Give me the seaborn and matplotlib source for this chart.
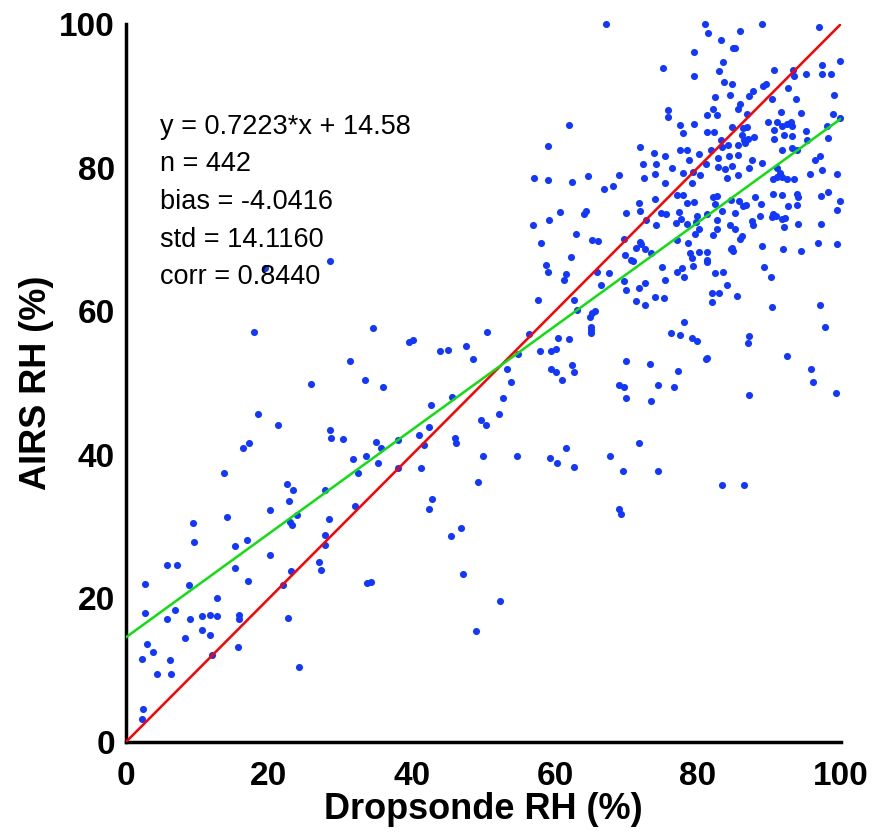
import numpy as np
import pandas as pd
import matplotlib
matplotlib.use('Agg')
import matplotlib.pyplot as plt
import seaborn as sns

# =============================================
# data (Dropsonde RH vs AIRS RH, %)
# =============================================
drop_rh = [
    # low range
    14.1, 9.4, 20.1, 22.8, 23.9, 23.0, 23.2, 28.4, 32.1, 9.5, 16.9, 15.3, 20.1, 5.7, 7.2,
    15.3, 23.1, 27.0, 27.3, 27.9, 27.9, 2.6, 8.8, 17.1, 22.0, 33.7, 12.8, 2.6, 6.8, 5.8,
    9.0, 10.7, 11.8, 12.8, 15.8, 15.8, 10.6, 11.8, 8.3, 22.7, 3.0, 3.8, 2.2, 6.1, 15.7,
    12.1, 4.4, 6.3, 24.2, 2.4, 2.2,
    19.4, 28.6, 17.9, 31.4, 33.4, 34.5, 25.9, 18.5, 21.3, 28.5, 28.7, 30.4, 16.4, 17.2,
    33.6, 31.7, 32.4, 13.7, 22.5, 23.3, 27.8,
    # middle range
    36.0, 39.6, 40.2, 43.9, 45.1, 47.6, 48.5, 50.5, 57.6, 58.7, 59.0, 61.3, 61.6, 62.7,
    63.1, 64.9, 65.2, 65.6, 65.0, 65.0, 65.0, 65.9, 66.4, 67.5, 56.3, 54.8, 57.9, 59.4,
    60.1, 60.4, 61.9, 59.4, 60.1, 61.0, 62.4, 62.6, 53.3, 53.8, 52.8, 52.2, 49.7, 50.4,
    45.6, 42.6, 42.4, 41.0, 41.7, 46.0, 46.1, 38.1, 34.9, 35.7, 35.2, 38.1, 41.3, 50.0,
    54.7, 59.3, 60.3, 61.5, 62.6, 49.2, 42.8, 42.4, 67.7,
    46.8, 45.5, 34.3, 47.1, 52.3, 48.9, 69.0, 69.3,
    69.7, 69.9, 70.9, 71.4, 72.6, 71.8, 72.6, 74.0, 75.3, 75.0, 75.4, 77.1, 77.7, 78.0,
    79.3, 81.3, 82.4, 83.5, 84.1, 82.0, 83.0, 82.0, 85.4, 89.2, 90.2, 90.4, 97.1, 97.8,
    78.0, 76.2, 77.5, 79.1, 79.8, 87.1, 87.0, 70.0, 73.3, 77.2, 81.1, 81.2, 92.4, 95.8,
    96.1, 68.9, 69.7, 69.9, 74.4, 76.6, 73.4, 87.1, 99.3, 71.7, 69.5, 74.4, 83.3, 86.5,
    67.1, 62.0, 59.0, 57.1, 59.0, 62.4, 64.6, 66.9, 60.7, 64.1, 64.4, 56.9, 59.2, 58.0,
    62.9, 65.2, 66.0, 62.2,
    # upper cluster
    81.0, 81.4, 85.9, 88.9, 96.9, 83.2, 84.9, 85.2, 79.5, 83.5, 75.1, 83.0, 79.5, 83.7,
    84.8, 90.6, 93.3, 93.5, 95.1, 97.3, 97.4, 98.6, 99.9, 89.1, 89.5, 87.7, 87.2, 84.5,
    82.4, 85.9, 85.6, 82.1, 75.8, 75.8, 92.6, 93.7, 90.3, 99.0, 91.6, 94.4, 98.9, 86.8,
    82.7, 81.3, 79.4, 77.5, 77.9, 81.2, 82.3, 84.8, 86.3, 86.8, 89.8, 91.0, 91.7, 92.4,
    93.0, 93.2, 90.7, 95.1, 98.0, 99.9, 86.1, 86.4, 87.0, 87.9, 86.6, 83.2, 85.6, 90.6,
    92.1, 93.1, 95.3, 98.2, 71.9, 77.5, 78.5, 81.8, 83.4, 84.2, 84.4, 85.6, 82.8, 73.8,
    75.4, 72.3, 74.2, 76.4, 78.8, 80.1, 81.1, 82.8, 83.8, 84.8, 87.6, 88.9, 87.1, 91.7,
    93.1, 93.8, 91.0, 91.5, 91.0, 91.7, 90.5, 92.4, 93.5, 95.7, 97.1, 96.4, 97.3, 99.4,
    69.0, 68.1, 72.5, 74.0, 75.4, 77.9, 79.3, 80.3, 84.1, 85.6, 79.2, 77.0, 77.9, 71.7,
    71.9, 70.0, 74.0, 74.9, 75.5, 78.4, 79.4, 77.3, 77.6, 76.9, 78.4, 79.8, 79.7, 81.2,
    82.7, 82.1, 82.6, 82.4, 83.3, 84.6, 85.8, 86.3, 86.7, 88.0, 88.8, 85.2, 90.5, 91.7,
    93.8, 94.0, 92.6, 93.8, 90.5, 90.9, 91.8, 92.2, 90.3, 88.7, 87.5, 87.7, 84.5, 85.2,
    82.7, 94.0, 92.0, 97.2, 99.4, 99.9, 98.2, 97.2, 80.1, 79.6, 82.1, 85.9, 86.2, 88.9,
    91.9, 94.4, 96.8, 99.5, 77.0, 78.6, 78.9, 79.2, 80.2, 81.3, 81.3, 84.6, 84.9, 84.7,
    71.9, 72.1, 72.6, 71.4, 69.6, 69.8, 70.7, 73.5, 74.2, 72.8,
]

airs_rh = [
    # low range
    31.3, 30.5, 32.3, 33.6, 31.6, 30.7, 30.2, 31.1, 32.8, 27.8, 28.2, 27.3, 26.0, 24.7, 24.7,
    24.3, 23.8, 25.0, 23.9, 28.8, 27.5, 22.0, 21.8, 22.4, 21.8, 22.1, 20.1, 18.0, 18.4, 17.1,
    17.1, 17.5, 17.7, 17.6, 17.7, 17.1, 15.6, 14.9, 14.5, 17.2, 13.6, 12.5, 11.5, 11.4, 13.2,
    12.1, 9.5, 9.5, 10.4, 4.6, 3.2,
    66.0, 67.0, 57.1, 53.0, 50.4, 57.7, 49.9, 45.7, 44.2, 43.5, 42.4, 42.2, 41.0, 41.7,
    39.8, 39.4, 37.4, 37.4, 35.9, 35.1, 35.1,
    # middle range
    49.4, 55.7, 56.0, 54.5, 54.6, 55.1, 53.3, 57.1, 61.6, 66.4, 65.5, 64.3, 65.2, 61.6,
    60.2, 59.2, 59.7, 60.0, 57.8, 57.4, 57.0, 65.4, 63.6, 65.3, 56.8, 54.0, 54.4, 54.4,
    54.7, 56.3, 56.1, 52.0, 51.5, 50.4, 52.5, 51.5, 52.0, 50.2, 47.9, 45.7, 44.8, 44.2,
    48.0, 46.9, 43.9, 42.7, 41.3, 42.4, 41.6, 42.0, 41.8, 41.0, 38.9, 38.1, 38.1, 39.8,
    39.8, 39.5, 38.9, 40.9, 38.3, 36.2, 33.9, 32.4, 39.8,
    29.8, 28.7, 22.3, 23.4, 19.7, 15.4, 32.5, 31.8,
    64.2, 63.0, 67.0, 61.4, 60.9, 63.2, 63.9, 62.0, 61.8, 66.2, 64.3, 65.4, 66.0, 64.7,
    66.3, 66.9, 65.3, 65.4, 63.7, 62.6, 62.6, 61.3, 62.1, 66.2, 64.7, 60.6, 60.9, 57.8,
    58.5, 57.0, 56.7, 56.3, 55.9, 56.6, 55.6, 53.1, 52.6, 51.6, 53.3, 53.5, 53.7, 52.0,
    50.2, 49.7, 49.4, 47.9, 49.7, 49.5, 47.5, 48.3, 48.6, 41.6, 37.7, 37.7, 35.8, 35.8,
    100.0, 85.9, 83.0, 78.5, 78.3, 78.0, 78.8, 77.0, 73.8, 73.5, 74.0, 72.0, 72.7, 69.5,
    70.8, 69.9, 69.8, 67.6,
    # upper cluster
    100.0, 98.8, 99.0, 100.0, 99.6, 97.8, 96.6, 96.6, 96.1, 94.7, 93.8, 93.4, 92.7, 91.9,
    91.6, 93.6, 93.6, 92.7, 93.1, 94.3, 93.1, 93.1, 94.9, 91.3, 91.7, 90.6, 90.0, 90.1,
    89.8, 88.9, 88.1, 88.2, 88.0, 87.0, 91.1, 89.6, 89.6, 90.1, 87.8, 87.6, 87.4, 87.5,
    87.3, 87.3, 86.0, 85.9, 84.8, 84.9, 85.0, 85.7, 85.5, 85.6, 86.4, 86.4, 85.8, 86.1,
    86.4, 85.8, 85.2, 85.1, 85.8, 86.9, 84.5, 83.8, 84.0, 84.3, 83.4, 83.8, 83.1, 84.0,
    84.5, 84.4, 83.8, 84.1, 82.9, 82.5, 82.5, 82.5, 82.8, 83.1, 81.6, 81.8, 81.3, 82.0,
    81.6, 80.5, 80.5, 79.9, 81.1, 81.9, 80.5, 80.1, 79.8, 80.2, 81.1, 80.7, 80.0, 82.5,
    82.7, 82.5, 79.9, 79.2, 78.7, 78.7, 78.4, 78.4, 78.4, 79.1, 81.6, 81.0, 79.6, 79.1,
    79.0, 77.5, 78.5, 79.1, 77.8, 79.3, 79.4, 79.0, 78.6, 78.9, 77.8, 76.2, 76.2, 75.0,
    73.9, 73.7, 75.6, 73.7, 73.6, 75.0, 75.2, 73.8, 72.9, 72.3, 72.1, 73.2, 72.4, 73.6,
    72.7, 75.9, 76.1, 74.9, 73.9, 75.5, 75.3, 74.6, 74.8, 75.9, 74.9, 73.7, 76.3, 76.2,
    76.3, 75.9, 74.7, 74.8, 73.6, 73.3, 72.8, 73.0, 73.1, 73.2, 72.6, 72.0, 72.0, 71.5,
    71.5, 72.2, 71.7, 72.2, 74.1, 75.3, 76.6, 76.1, 71.5, 70.8, 70.6, 70.1, 70.4, 69.1,
    68.6, 68.4, 69.5, 69.4, 69.9, 69.5, 68.1, 67.4, 68.3, 68.3, 67.1, 68.6, 68.4, 68.8,
    69.7, 69.4, 68.6, 68.8, 70.1, 67.8, 67.1, 68.1, 72.0, 72.7,
]

# fit line and 1:1 line
fit_slope = 0.7223
fit_intercept = 14.58
line_x = [0, 100]

stats_text = ['y = 0.7223*x + 14.58', 'n = 442', 'bias = -4.0416',
              'std = 14.1160', 'corr = 0.8440']

df = pd.DataFrame({'Dropsonde': drop_rh, 'AIRS': airs_rh})
df_line = pd.DataFrame({
    'x': line_x,
    'one2one': line_x,
    'fit': [fit_slope * v + fit_intercept for v in line_x],
})

# =============================================
# plotting
# =============================================
sns.set_style('white')
plt.rcParams['font.family'] = ['Liberation Sans', 'DejaVu Sans']
plt.rcParams['text.color'] = 'black'
plt.rcParams['axes.labelcolor'] = 'black'
plt.rcParams['xtick.color'] = 'black'
plt.rcParams['ytick.color'] = 'black'

fig = plt.figure(figsize=(8.76, 8.35), dpi=100)
ax = fig.add_axes([0.1438, 0.1114, 0.8162, 0.8599])

sns.scatterplot(data=df, x='Dropsonde', y='AIRS', ax=ax, color='#1238ff',
                s=26, linewidth=0, clip_on=False, zorder=2)
sns.lineplot(data=df_line, x='x', y='one2one', ax=ax, color='#ff0000',
             linewidth=1.8, zorder=3)
sns.lineplot(data=df_line, x='x', y='fit', ax=ax, color='#11dd11',
             linewidth=1.8, zorder=3)

for i, t in enumerate(stats_text):
    ax.text(4.8, 85.7 - i * 5.25, t, fontsize=19.5, va='center', ha='left', color='black')

ax.set_xlim(0, 100)
ax.set_ylim(0, 100)
ax.set_xticks([0, 20, 40, 60, 80, 100])
ax.set_yticks([0, 20, 40, 60, 80, 100])
ax.set_xlabel('Dropsonde RH (%)', fontsize=26, fontweight='bold', labelpad=0)
ax.set_ylabel('AIRS RH (%)', fontsize=26, fontweight='bold', labelpad=4)
ax.tick_params(direction='in', length=7, width=2.5, labelsize=24)
ax.tick_params(axis='x', pad=14)
ax.tick_params(axis='y', pad=8)
for lab in ax.get_xticklabels() + ax.get_yticklabels():
    lab.set_fontweight('bold')

sns.despine(ax=ax)
for side in ['left', 'bottom']:
    ax.spines[side].set_linewidth(2.5)
    ax.spines[side].set_color('black')

fig.savefig('out.png', dpi=100)
